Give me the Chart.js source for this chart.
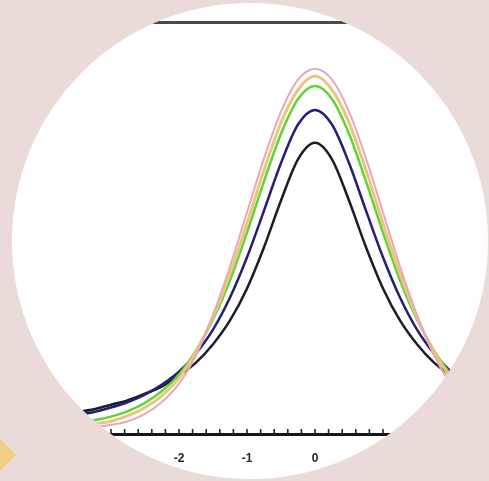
<!DOCTYPE html>
<html>
<head>
<meta charset="utf-8">
<script src="https://cdn.jsdelivr.net/npm/chart.js@4/dist/chart.umd.min.js"></script>
<style>
  html, body { margin: 0; padding: 0; }
  body { width: 489px; height: 481px; overflow: hidden; position: relative; background: #ebdbd8; }
  .wedge { position: absolute; left: -20px; top: 440px; width: 30px; height: 30px; background: #f0cf86; transform: rotate(45deg); transform-origin: 50% 50%; }
  .disc { position: absolute; left: 12px; top: 3px; width: 476px; height: 476px; border-radius: 50%; overflow: hidden; background: #fff; }
  .disc canvas { position: absolute; left: -12px; top: -3px; }
</style>
</head>
<body>
<div class="wedge"></div>
<div class="disc"><canvas id="myChart" width="560" height="481"></canvas></div>
<script>
// x positions the curves were read at
const xs = [-4, -3.75, -3.5, -3.25, -3, -2.75, -2.5, -2.25, -2, -1.75, -1.5, -1.25, -1, -0.75, -0.5, -0.25,
            0, 0.25, 0.5, 0.75, 1, 1.25, 1.5, 1.75, 2, 2.25, 2.5, 2.75, 3];

// curve heights (density)
const blackCurve = [0.019, 0.021, 0.024, 0.027, 0.032, 0.037, 0.044, 0.052, 0.064, 0.078, 0.098, 0.124, 0.159, 0.204, 0.255, 0.300,
                    0.318, 0.300, 0.255, 0.204, 0.159, 0.124, 0.098, 0.078, 0.064, 0.052, 0.044, 0.037, 0.032];
const blueCurve = [0.015, 0.018, 0.021, 0.024, 0.029, 0.035, 0.043, 0.054, 0.068, 0.088, 0.114, 0.149, 0.193, 0.244, 0.296, 0.338,
                   0.354, 0.338, 0.296, 0.244, 0.193, 0.149, 0.114, 0.088, 0.068, 0.053, 0.042, 0.034, 0.027];
const greenCurve = [0.007, 0.009, 0.012, 0.015, 0.019, 0.025, 0.034, 0.047, 0.065, 0.091, 0.125, 0.168, 0.220, 0.276, 0.328, 0.366,
                    0.380, 0.366, 0.328, 0.276, 0.220, 0.168, 0.125, 0.091, 0.065, 0.047, 0.033, 0.024, 0.017];
const yellowCurve = [0.004, 0.006, 0.008, 0.011, 0.014, 0.020, 0.029, 0.042, 0.061, 0.090, 0.127, 0.175, 0.230, 0.288, 0.340, 0.376,
                     0.391, 0.376, 0.340, 0.288, 0.230, 0.175, 0.127, 0.090, 0.061, 0.041, 0.027, 0.018, 0.011];
const pinkCurve = [0.002, 0.003, 0.005, 0.007, 0.010, 0.014, 0.022, 0.035, 0.055, 0.086, 0.130, 0.183, 0.242, 0.301, 0.352, 0.387,
                   0.399, 0.387, 0.352, 0.301, 0.242, 0.183, 0.130, 0.086, 0.054, 0.032, 0.018, 0.009, 0.004];

const toPoints = arr => xs.map((x, i) => ({x: x, y: arr[i]}));

// small tick marks pointing up into the plot
const innerTicks = {
    id: 'innerTicks',
    afterDatasetsDraw(chart) {
        const sc = chart.scales.x;
        const ctx = chart.ctx;
        ctx.save();
        ctx.strokeStyle = '#222';
        ctx.lineWidth = 1.6;
        sc.ticks.forEach(t => {
            const px = sc.getPixelForValue(t.value);
            ctx.beginPath();
            ctx.moveTo(px, sc.top);
            ctx.lineTo(px, sc.top - 5);
            ctx.stroke();
        });
        ctx.restore();
    }
};

let ctx = document.getElementById('myChart').getContext('2d');

Chart.defaults.font.family = '"Liberation Sans", Arial, sans-serif';

let densityChart = new Chart(ctx, {
    type: 'line',
    data: {
        datasets: [
            {data: toPoints(pinkCurve), borderColor: '#e6a9b6', borderWidth: 2},
            {data: toPoints(yellowCurve), borderColor: '#e8c67c', borderWidth: 3},
            {data: toPoints(greenCurve), borderColor: '#62d236', borderWidth: 2.5},
            {data: toPoints(blueCurve), borderColor: '#221f78', borderWidth: 2.5},
            {data: toPoints(blackCurve), borderColor: '#1c1c26', borderWidth: 2.5}
        ]
    },
    options: {
        responsive: false,
        animation: false,
        elements: {
            point: {radius: 0},
            line: {cubicInterpolationMode: 'monotone', fill: false}
        },
        layout: {
            padding: {left: 43, right: 41, top: 22, bottom: 0}
        },
        plugins: {
            legend: {display: false},
            tooltip: {enabled: false}
        },
        scales: {
            x: {
                type: 'linear',
                position: 'bottom',
                min: -4,
                max: 3,
                grid: {display: false, drawTicks: false},
                border: {display: true, color: '#161616', width: 3},
                ticks: {
                    stepSize: 0.2,
                    maxTicksLimit: 100,
                    autoSkip: false,
                    maxRotation: 0,
                    padding: 17,
                    color: '#262626',
                    font: {size: 12, weight: 'bold'},
                    callback: v => Math.abs(v - Math.round(v)) < 1e-6 ? String(Math.round(v)) : ''
                },
                afterFit: s => { s.height = 47; }
            },
            x2: {
                type: 'linear',
                position: 'top',
                grid: {display: false, drawTicks: false},
                border: {display: true, color: '#4a4a4a', width: 3},
                ticks: {display: false},
                afterFit: s => { s.height = 0; }
            },
            y: {
                display: false,
                min: 0,
                max: 0.45
            }
        }
    },
    plugins: [innerTicks]
});
</script>
</body>
</html>
